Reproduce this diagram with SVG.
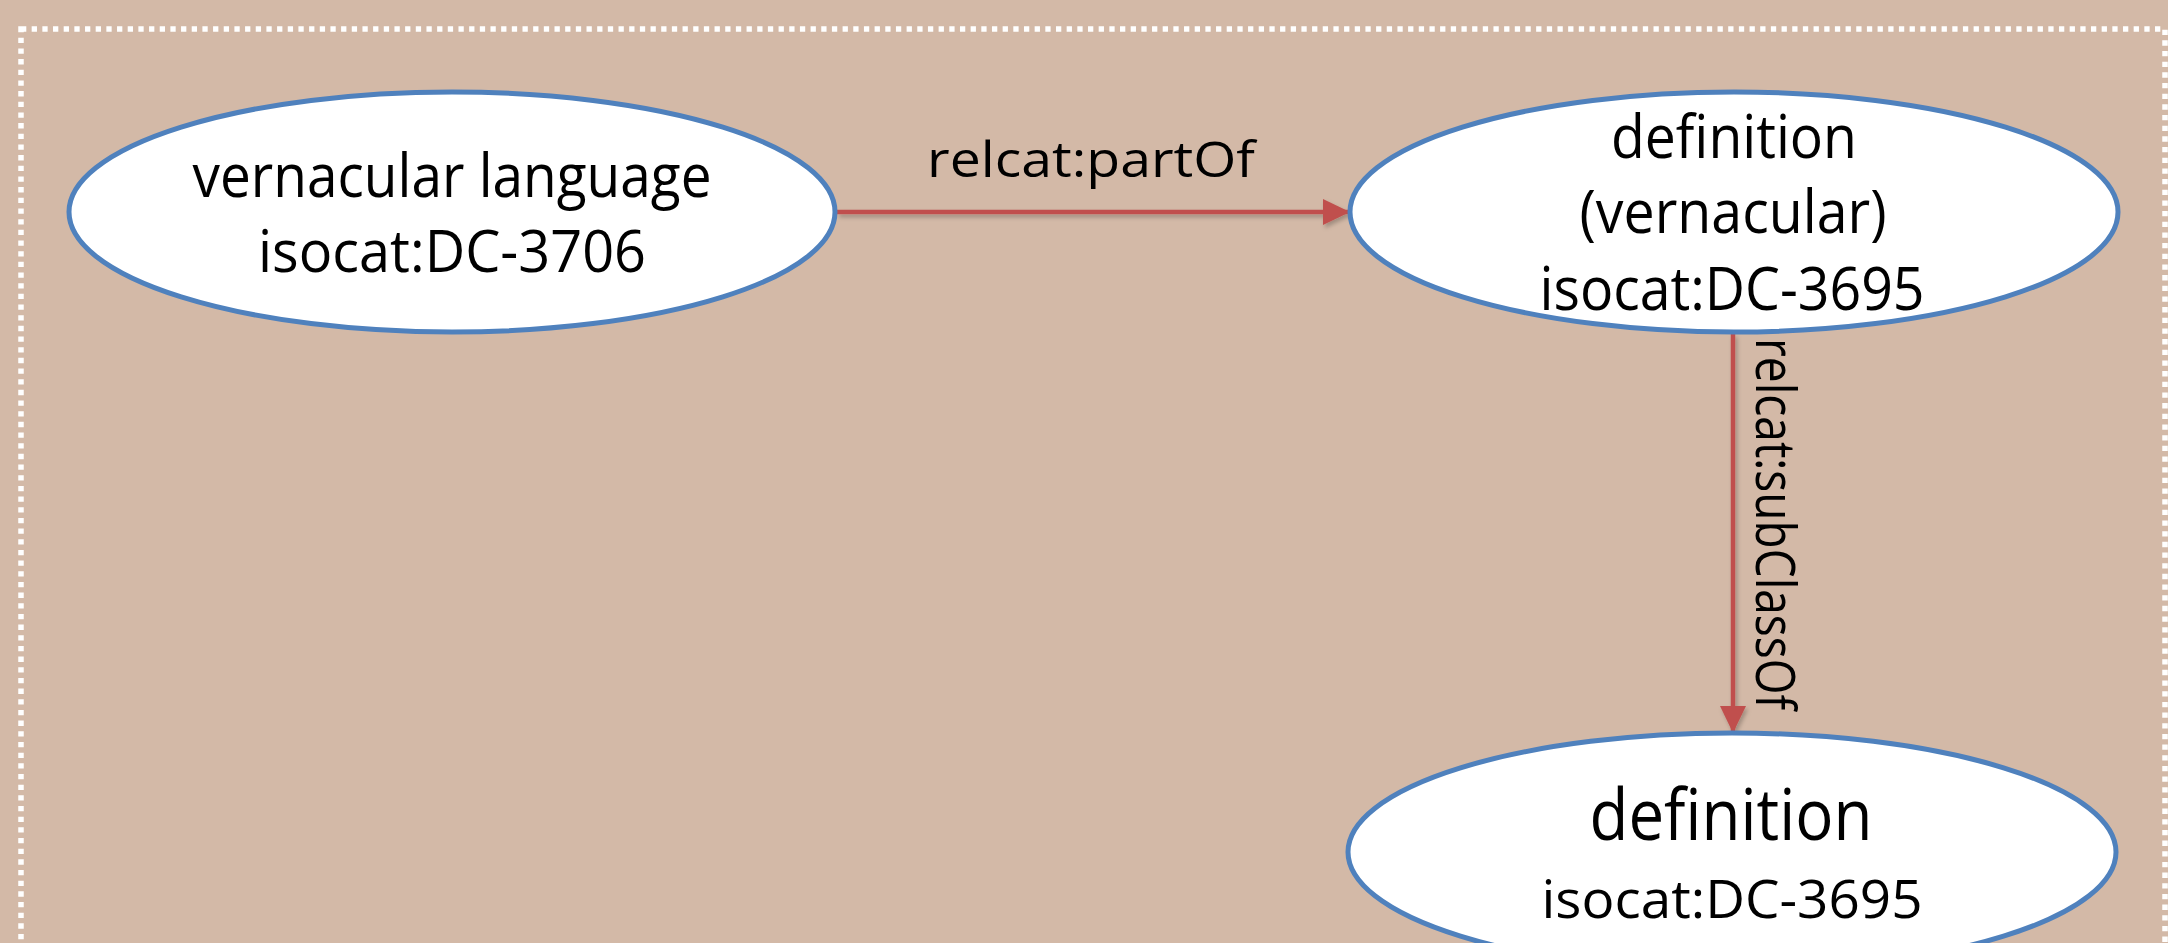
<svg xmlns="http://www.w3.org/2000/svg" width="2168" height="943" viewBox="0 0 2168 943">
  <style>
    .node ellipse { fill: #FFFFFF; stroke: #4F81BD; stroke-width: 5; }
    .t { font-family: "Open Sans", "Noto Sans", "Liberation Sans", sans-serif; fill: #000000; text-anchor: middle; }
    .conn line { stroke: #C0504D; stroke-width: 4.5; }
    .frame { fill: none; stroke: #FFFFFF; stroke-width: 5.5; stroke-dasharray: 5.3 5.37; }
  </style>
  <defs>
    <marker id="arrow" viewBox="0 0 27 26" refX="26" refY="13" markerWidth="27" markerHeight="26" markerUnits="userSpaceOnUse" orient="auto">
      <path d="M0,0 L27,13 L0,26 Z" fill="#C0504D"/>
    </marker>
    <filter id="shadow" x="-10%" y="-10%" width="130%" height="130%">
      <feDropShadow dx="2" dy="3" stdDeviation="2" flood-color="#000000" flood-opacity="0.25"/>
    </filter>
  </defs>
  <rect x="0" y="0" width="2168" height="943" fill="#D3B9A7"/>
  <rect class="frame" x="21" y="29" width="2144" height="1000"/>

  <g id="connectors" class="conn" filter="url(#shadow)">
    <line x1="837" y1="212" x2="1349" y2="212" marker-end="url(#arrow)"/>
    <line x1="1733" y1="334" x2="1733" y2="732" marker-end="url(#arrow)"/>
  </g>
  <g id="connector-labels">
    <text class="t" x="1091" y="177" font-size="49" textLength="328" lengthAdjust="spacingAndGlyphs">relcat:partOf</text>
    <text class="t" font-size="54" textLength="372" lengthAdjust="spacingAndGlyphs" transform="translate(1756,524) rotate(90)" x="0" y="0">relcat:subClassOf</text>
  </g>

  <g id="node-vernacular-language" class="node">
    <ellipse cx="452" cy="212" rx="383" ry="120"/>
    <text class="t" x="452" y="197" font-size="61" textLength="519" lengthAdjust="spacingAndGlyphs">vernacular language</text>
    <text class="t" x="452" y="272" font-size="59" textLength="388" lengthAdjust="spacingAndGlyphs">isocat:DC-3706</text>
  </g>

  <g id="node-definition-vernacular" class="node">
    <ellipse cx="1734" cy="212" rx="384" ry="120"/>
    <text class="t" x="1734" y="158" font-size="60" textLength="246" lengthAdjust="spacingAndGlyphs">definition</text>
    <text class="t" x="1733" y="233" font-size="60" textLength="307" lengthAdjust="spacingAndGlyphs">(vernacular)</text>
    <text class="t" x="1732" y="310" font-size="60" textLength="385" lengthAdjust="spacingAndGlyphs">isocat:DC-3695</text>
  </g>

  <g id="node-definition" class="node">
    <ellipse cx="1732" cy="852" rx="384" ry="119"/>
    <text class="t" x="1731" y="840" font-size="71" textLength="283" lengthAdjust="spacingAndGlyphs">definition</text>
    <text class="t" x="1732" y="918" font-size="53" textLength="381" lengthAdjust="spacingAndGlyphs">isocat:DC-3695</text>
  </g>
</svg>
